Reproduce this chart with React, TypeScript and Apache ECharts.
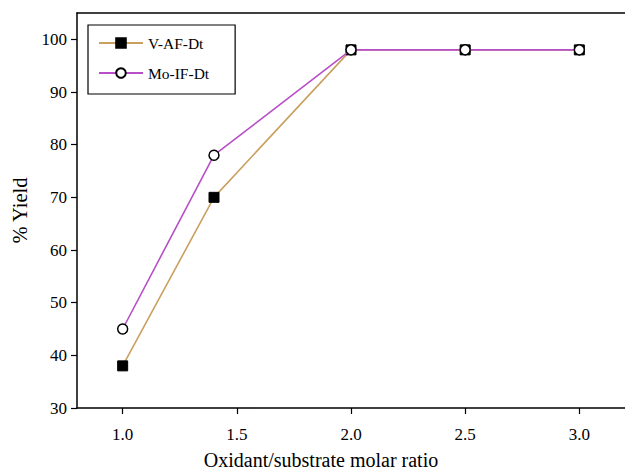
import React, { useEffect, useRef } from "react";
import * as echarts from "echarts";

const ratios = [1.0, 1.4, 2.0, 2.5, 3.0];
const vafYield = [38, 70, 98, 98, 98];
const moifYield = [45, 78, 98, 98, 98];
const seriesNames = ["V-AF-Dt", "Mo-IF-Dt"];
const xTicks = [1.0, 1.5, 2.0, 2.5, 3.0];
const xTitle = "Oxidant/substrate molar ratio";
const yTitle = "% Yield";

const FONT = "'Liberation Serif', 'DejaVu Serif', serif";

export default function App() {
  const ref = useRef<HTMLDivElement>(null);
  useEffect(() => {
    if (!ref.current) return;
    const chart = echarts.init(ref.current, undefined, { renderer: "svg" });
    const axisText = { color: "#000", fontFamily: FONT, fontSize: 17 };
    chart.setOption({
      animation: false,
      backgroundColor: "#fff",
      grid: { left: 77, right: 0, top: 13, bottom: 62, containLabel: false, outerBoundsMode: "none" },
      legend: {
        left: 88,
        top: 25,
        orient: "vertical",
        borderColor: "#000",
        borderWidth: 1.2,
        padding: [10, 26, 13, 10],
        itemGap: 14,
        itemWidth: 44,
        itemHeight: 12,
        textStyle: { color: "#000", fontFamily: FONT, fontSize: 15.5 },
        data: seriesNames,
      },
      xAxis: [
        {
          type: "value",
          min: 0.8,
          max: 3.2,
          interval: 0.5,
          position: "bottom",
          splitLine: { show: false },
          axisLine: { show: true, onZero: false, lineStyle: { color: "#000", width: 1.5 } },
          axisTick: { show: true, length: 6, lineStyle: { color: "#000", width: 1.2 }, customValues: xTicks },
          axisLabel: {
            ...axisText,
            margin: 18,
            customValues: xTicks,
            formatter: (v: number) => v.toFixed(1),
          },
          name: xTitle,
          nameLocation: "middle",
          nameGap: 42,
          nameTextStyle: { ...axisText, fontSize: 20, padding: [0, 60, 0, 0] },
        },
        {
          type: "value",
          min: 0.8,
          max: 3.2,
          position: "top",
          splitLine: { show: false },
          axisLine: { show: true, onZero: false, lineStyle: { color: "#000", width: 1.5 } },
          axisTick: { show: false },
          axisLabel: { show: false },
        },
      ],
      yAxis: {
        type: "value",
        min: 30,
        max: 105,
        interval: 10,
        splitLine: { show: false },
        axisLine: { show: true, onZero: false, lineStyle: { color: "#000", width: 1.5 } },
        axisTick: { show: true, length: 6, lineStyle: { color: "#000", width: 1.2 } },
        axisLabel: {
          ...axisText,
          margin: 10,
          showMaxLabel: false,
          formatter: (v: number) => (v > 100 ? "" : String(v)),
        },
        name: yTitle,
        nameLocation: "middle",
        nameGap: 37,
        nameTextStyle: { ...axisText, fontSize: 20.5 },
      },
      series: [
        {
          name: seriesNames[0],
          type: "line",
          data: ratios.map((x, i) => [x, vafYield[i]]),
          symbol: "rect",
          symbolSize: 10,
          lineStyle: { color: "#C9A060", width: 1.6 },
          itemStyle: { color: "#000", borderColor: "#000", borderWidth: 1 },
          z: 2,
        },
        {
          name: seriesNames[1],
          type: "line",
          data: ratios.map((x, i) => [x, moifYield[i]]),
          symbol: "circle",
          symbolSize: 10,
          lineStyle: { color: "#B84FC8", width: 1.6 },
          itemStyle: { color: "#fff", borderColor: "#000", borderWidth: 1.5 },
          z: 3,
        },
      ],
    });
    return () => chart.dispose();
  }, []);
  return (
    <div
      ref={ref}
      style={{ position: "fixed", left: 0, top: 0, width: 625, height: 470, background: "#fff" }}
    />
  );
}
